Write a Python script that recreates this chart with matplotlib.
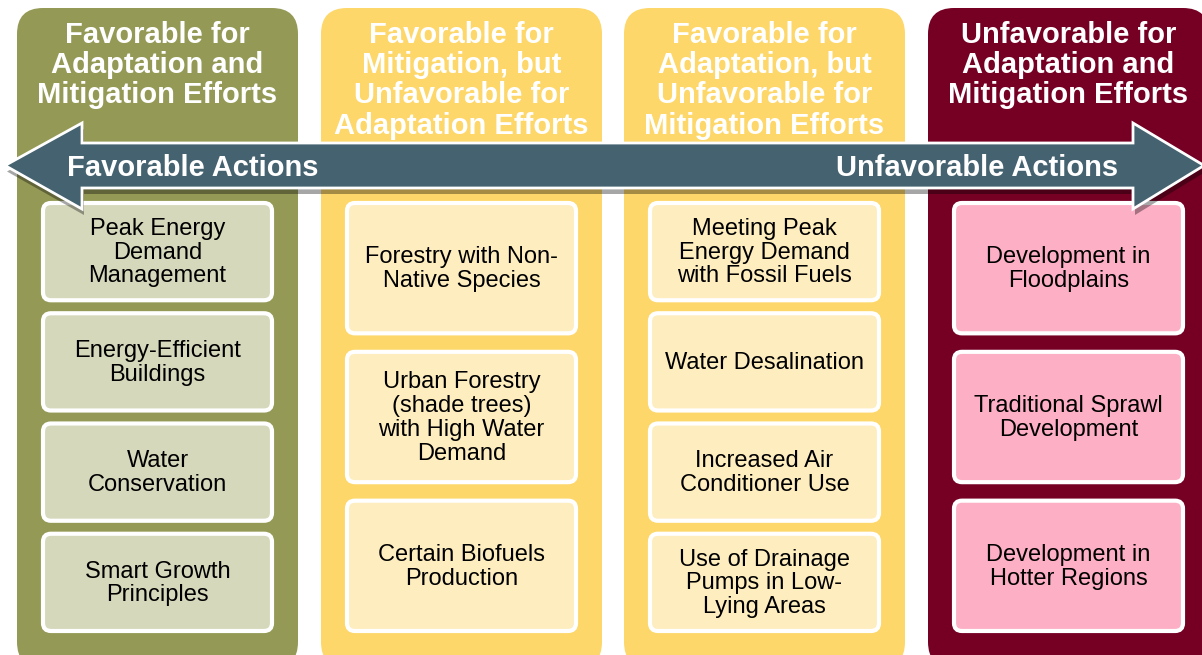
import matplotlib.pyplot as plt
from matplotlib.patches import FancyBboxPatch, Polygon

plt.rcParams['font.family'] = ['Liberation Sans', 'DejaVu Sans']

# column headers, one per column
headers = [
    "Favorable for\nAdaptation and\nMitigation Efforts",
    "Favorable for\nMitigation, but\nUnfavorable for\nAdaptation Efforts",
    "Favorable for\nAdaptation, but\nUnfavorable for\nMitigation Efforts",
    "Unfavorable for\nAdaptation and\nMitigation Efforts",
]

# actions listed in each column
col1_items = ["Peak Energy\nDemand\nManagement", "Energy-Efficient\nBuildings",
              "Water\nConservation", "Smart Growth\nPrinciples"]
col2_items = ["Forestry with Non-\nNative Species",
              "Urban Forestry\n(shade trees)\nwith High Water\nDemand",
              "Certain Biofuels\nProduction"]
col3_items = ["Meeting Peak\nEnergy Demand\nwith Fossil Fuels", "Water Desalination",
              "Increased Air\nConditioner Use",
              "Use of Drainage\nPumps in Low-\nLying Areas"]
col4_items = ["Development in\nFloodplains", "Traditional Sprawl\nDevelopment",
              "Development in\nHotter Regions"]
items = [col1_items, col2_items, col3_items, col4_items]

arrow_labels = ["Favorable Actions", "Unfavorable Actions"]

col_colors = ["#949a56", "#fdd769", "#fdd769", "#750024"]
box_colors = ["#d6d8bb", "#fdedbf", "#fdedbf", "#fdafc6"]
arrow_color = "#456270"

W, H = 1202, 655
fig = plt.figure(figsize=(W / 100, H / 100), dpi=100)
ax = fig.add_axes([0, 0, 1, 1])
ax.set_xlim(0, W)
ax.set_ylim(H, 0)
ax.axis('off')

col_left = [17, 321, 624, 928]
col_w = 281
col_top, col_bot = 8, 668
box_top, box_bot = 203, 631

for i in range(4):
    x0 = col_left[i]
    ax.add_patch(FancyBboxPatch((x0 + 26, col_top + 26), col_w - 52, col_bot - col_top - 52,
                                boxstyle="round,pad=26", fc=col_colors[i], ec='none', zorder=1))
    ax.text(x0 + col_w / 2, 21, headers[i], ha='center', va='top', color='white',
            fontsize=21, fontweight='bold', linespacing=1.1, zorder=2)
    n = len(items[i])
    gap = 13 if n == 4 else 18.5
    h = (box_bot - box_top - gap * (n - 1)) / n
    bx = x0 + 26
    bw = col_w - 52
    for j, label in enumerate(items[i]):
        by = box_top + j * (h + gap)
        ax.add_patch(FancyBboxPatch((bx + 8, by + 8), bw - 16, h - 16,
                                    boxstyle="round,pad=8", fc=box_colors[i], ec='white',
                                    lw=3, zorder=2))
        ax.text(bx + bw / 2, by + h / 2 + 1, label, ha='center', va='center', color='black',
                fontsize=17, linespacing=1.1, zorder=3)

# double-headed arrow across the columns
body_t, body_b = 143, 188
head_t, head_b = 123, 209
tip_l, base_l = 5, 82
tip_r, base_r = 1204, 1133
mid = (body_t + body_b) / 2
pts = [(tip_l, mid), (base_l, head_t), (base_l, body_t), (base_r, body_t), (base_r, head_t),
       (tip_r, mid), (base_r, head_b), (base_r, body_b), (base_l, body_b), (base_l, head_b)]
shadow = [(x + 2, y + 6) for x, y in pts]
ax.add_patch(Polygon(shadow, closed=True, fc='black', ec='none', alpha=0.35, zorder=4))
ax.add_patch(Polygon(pts, closed=True, fc=arrow_color, ec='white', lw=2, zorder=5))

ax.text(67, mid + 3, arrow_labels[0], ha='left', va='center', color='white',
        fontsize=21, fontweight='bold', zorder=6)
ax.text(1118, mid + 3, arrow_labels[1], ha='right', va='center', color='white',
        fontsize=21, fontweight='bold', zorder=6)

fig.savefig("out.png", dpi=100)
